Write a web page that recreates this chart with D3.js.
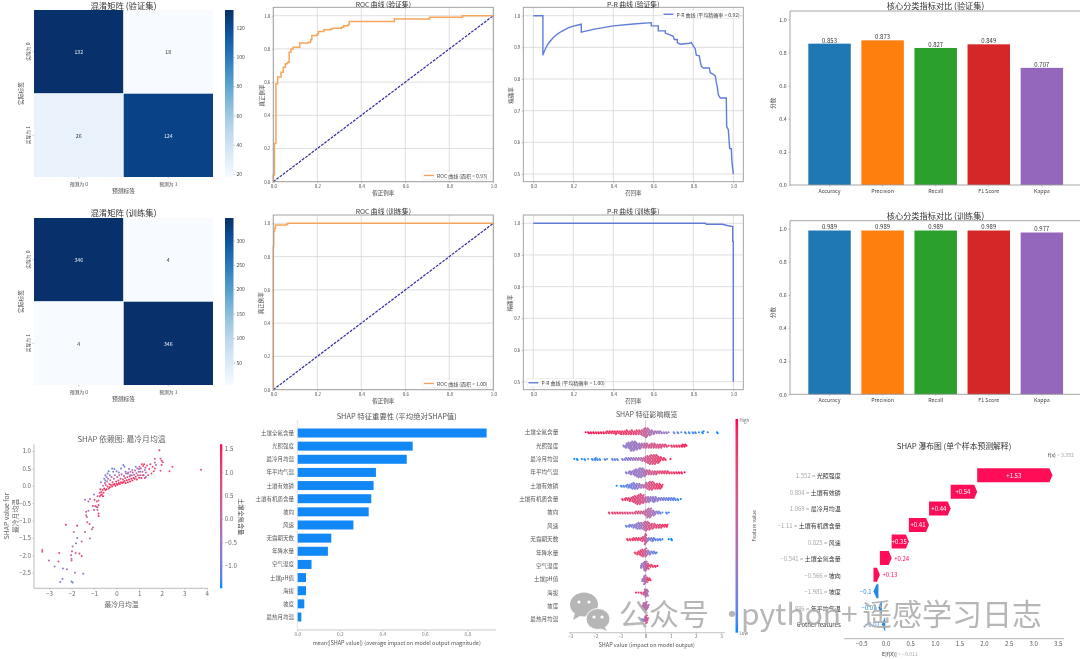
<!DOCTYPE html>
<html><head><meta charset="utf-8">
<script src="https://cdn.jsdelivr.net/npm/d3@7/dist/d3.min.js"></script>
<style>
html,body{margin:0;padding:0;background:#fff}
svg{display:block;filter:blur(.3px)}
text{font-family:"Noto Sans CJK SC","Noto Sans",sans-serif}
</style></head><body><svg id="c" width="1080" height="659" viewBox="0 0 1080 659"></svg>
<script>
// ---------- data ----------
const cmPredLabels=["预测为 0","预测为 1"];
const cmTrueLabels=["实际为 0","实际为 1"];
const cmVal=[[132,18],[26,124]];
const cmTrain=[[346,4],[4,346]];
const cmValTicks=[20,40,60,80,100,120];
const cmTrainTicks=[50,100,150,200,250,300];
const unitTicks=[0,0.2,0.4,0.6,0.8,1.0];
const prTicks=[0.5,0.6,0.7,0.8,0.9,1.0];
const rocVal=[[0,0],[0,.04],[.005,.23],[.012,.59],[.02,.63],[.035,.66],[.045,.69],[.055,.71],[.065,.72],[.072,.78],[.08,.80],[.09,.81],[.12,.835],[.16,.84],[.17,.855],[.175,.88],[.2,.89],[.205,.905],[.23,.915],[.26,.92],[.27,.925],[.31,.93],[.32,.94],[.34,.945],[.345,.965],[.53,.965],[.55,.98],[.7,.98],[.71,.99],[.85,.99],[.86,1],[1,1]];
const rocTrain=[[0,0],[0,.86],[.002,.95],[.005,.97],[.01,.99],[.06,.995],[.065,1],[1,1]];
const prVal=[[0,1],[.048,1],[.048,.875],[.05,.88],[.06,.895],[.07,.907],[.08,.916],[.1,.931],[.12,.942],[.14,.95],[.16,.957],[.18,.963],[.2,.967],[.22,.97],[.24,.973],[.24,.948],[.3,.957],[.4,.968],[.5,.974],[.59,.978],[.59,.968],[.625,.968],[.625,.952],[.66,.952],[.66,.945],[.68,.94],[.7,.935],[.705,.925],[.72,.925],[.72,.915],[.735,.91],[.78,.913],[.79,.915],[.8,.905],[.81,.895],[.815,.875],[.83,.873],[.835,.855],[.84,.84],[.85,.835],[.88,.835],[.885,.82],[.9,.815],[.91,.81],[.915,.79],[.92,.775],[.925,.75],[.935,.74],[.965,.74],[.967,.65],[.975,.64],[.982,.58],[.99,.58],[.993,.54],[1,.5]];
const prTrain=[[0,1],[.86,1],[.865,.997],[.945,.997],[.97,.993],[.997,.99],[.997,.943],[1,.943],[1,.5]];
const metricNames=["Accuracy","Precision","Recall","F1 Score","Kappa"];
const metricVal=[.853,.873,.827,.849,.707];
const metricTrain=[.989,.989,.989,.989,.977];
const metricColors=["#1f77b4","#ff7f0e","#2ca02c","#d62728","#9467bd"];
const features=["土壤全氮含量","光照强度","最冷月均温","年平均气温","土壤有效磷","土壤有机质含量","坡向","风速","无霜期天数","年降水量","空气湿度","土壤pH值","海拔","坡度","最热月均温"];
const meanShap=[.891,.543,.515,.37,.359,.348,.336,.264,.16,.144,.067,.041,.041,.033,.019];
// dependence plot: [feature, SHAP, colouring feature]
const depPoints=[[-3.3,-1.85,.2],[-3.3,-1.9,.2],[-3,-2.15,0],[-2.75,-2.32,-.6],[-2.58,-2.18,.6],[-2.55,-1.93,.8],[-2.5,-2.77,-1],[-2.4,-2.68,-.6],[-2.38,-2.38,-.5],[-2.2,-2.4,-.4],[-2.25,-1.12,1],[-2,-2.75,-.9],[-1.95,-2.78,-.9],[-2.02,-2,.3],[-2,-2.1,0],[-2,-2.15,.1],[-1.98,-1.88,.5],[-1.95,-1.75,-.1],[-1.9,-1.33,.4],[-1.85,-2.5,-.3],[-1.82,-1.93,.4],[-1.8,-1.65,-.5],[-1.75,-1.5,-.8],[-1.75,-1.15,1.2],[-1.65,-1.95,.8],[-1.55,-2.02,.9],[-1.55,-1.6,.2],[-1.48,-2.53,-.9],[-1.4,-1.33,.5],[-1.4,-.4,-.6],[-1.35,-.75,.3],[-1.35,-.85,.2],[-1.32,-.9,.1],[-1.3,-1.05,.4],[-1.25,-.45,.4],[-1.25,-.72,-.1],[-1.2,-1.1,.5],[-1.18,-.38,.3],[-1.18,-1.52,-.3],[-1.1,-1.25,.2],[-1.05,-1.2,.4],[-1.05,-.58,.9],[-1,-.25,-.7],[-1,-.7,.2],[-.98,-.4,.9],[-.95,-.58,.2],[-.9,-.6,.1],[-.88,-.45,.7],[-.85,-.3,.3],[-.85,-.62,.4],[-.85,-.7,.3],[-.8,-.42,.2],[-.8,-.55,.8],[-.8,-.8,1],[-.8,-.87,1.1],[-.75,-.3,.6],
[-.7,.1,-.6],[-.6,0,-.4],[-.55,.2,-.8],[-.5,.15,-1],[-.5,.3,-.9],[-.45,.25,-.8],[-.4,.35,-.9],[-.35,.42,-1],[-.3,.3,-.6],[-.2,.5,-.9],[-.15,.4,-.7],[-.1,.48,-1],[0,.42,-.6],[.1,.38,-.8],[.2,.5,-.9],[.3,.6,-1],[.35,.55,-.8],[.4,.4,-.7],[.5,.35,-.9],[.55,.48,-.6],[.6,.3,-.7],[.7,.45,-.5],[.85,.55,-.9],[1,.48,-1],[1.05,.4,-.8],[1.15,.3,-.9],[1.25,.45,-.7],[1.3,.25,-.8],
[-.75,-.2,1],[-.72,-.1,1.2],[-.7,-.27,1.1],[-.68,-.18,.9],[-.65,-.25,1.2],[-.62,-.12,1],[-.6,-.3,1.3],[-.58,-.2,1.1],[-.55,-.08,1.2],[-.52,.08,.4],[-.5,-.12,1.2],[-.48,.02,.5],[-.45,-.1,1.3],[-.42,.12,.2],[-.4,-.02,1.1],[-.38,.2,0],[-.35,-.08,1.2],[-.32,.05,.9],[-.3,-.04,1.3],[-.28,.16,.1],[-.25,.02,1.1],[-.22,.25,-.1],[-.2,-.02,1.2],[-.18,.1,.8],[-.15,.03,1.3],[-.12,.2,.3],[-.1,.05,1.2],[-.08,.3,-.2],[-.05,0,1.3],[-.02,.12,.9],[0,.06,1.2],[.03,.25,.2],[.05,.03,1.3],[.08,.15,.8],[.1,.08,1.3],[.12,.3,0],[.15,.05,1.2],[.18,.2,.6],[.2,.1,1.3],[.22,.33,-.1],[.25,.08,1.2],[.28,.18,.8],[.3,.1,1.3],[.33,.28,.3],[.35,.14,1.1],[.38,.22,.6],[.4,.08,1.3],[.42,.35,.1],[.45,.16,1.2],[.48,.25,.5],[.5,.1,1.3],[.52,.38,-.1],[.55,.18,1.1],[.58,.27,.4],[.6,.12,1.2],[.62,.4,-.2],[.65,.2,1.1],[.68,.3,.3],[.7,.15,1.3],[.72,.38,0],[.75,.22,1],[.78,.32,.3],[.8,.2,1.3],[.82,.44,.1],[.85,.26,.9],[.88,.36,.2],[.9,.18,1.2],[.92,.5,.3],[.95,.3,.8],[.98,.4,.1],[1,.23,1.2],[1.02,.55,.5],[1.05,.3,.8],[1.08,.5,.4],[1.1,.22,1.1],[1.12,.62,.8],[1.15,.4,.3],[1.18,.57,.6],[1.2,.3,.8],[1.22,.62,.9],[1.25,.22,1],[1.28,.52,.6],[1.3,.38,.5],[1.35,.58,.8],[1.4,.3,.9],[1.45,.48,.6],[1.5,.62,.9],[1.55,.35,1],[1.6,.55,.8],[1.65,.42,.9],
[1.9,1.02,1],[1.7,.78,.3],[1.7,.67,-.3],[1.75,.6,-.5],[1.7,.5,.9],[1.95,.78,.4],[2,.72,.8],[2.05,.68,.9],[2,.6,1],[1.95,.43,.7],[2.35,.42,.9],[2.48,.55,1],[3.75,.46,.8]];
// beeswarm bins per feature: [SHAP value, dots in the bin, feature value 0..1]
const bee0=[[-2.35,1,1],[-2.25,2,1],[-2.15,2,.97],[-2.05,2,.97],[-1.95,2,.95],[-1.85,2,.97],[-1.75,2,.95],[-1.65,2,.95],[-1.55,3,.9],[-1.45,3,.88],[-1.35,3,.9],[-1.25,3,.88],[-1.15,4,.88],[-1.05,3,.85],[-.95,4,.85],[-.85,4,.82],[-.75,5,.82],[-.65,4,.82],[-.55,5,.78],[-.45,4,.78],[-.35,5,.75],[-.25,5,.7],[-.15,6,.65],[-.05,9,.55],[.05,10,.5],[.15,7,.45],[.25,5,.38],[.35,4,.35],[.45,3,.35],[.55,3,.3],[.65,2,.3],[.75,2,.3],[.85,2,.28],[.95,1,.28],[1.15,2,.15],[1.3,2,.1],[1.45,1,.1],[1.6,2,.05],[1.75,2,.05],[1.9,2,.05],[2,2,.05],[2.15,1,.03],[2.28,3,.02],[2.5,1,.02],[2.87,2,0]];
const bee1=[[-.85,2,.2],[-.75,5,.25],[-.65,7,.3],[-.55,10,.3],[-.45,10,.3],[-.35,8,.3],[-.25,6,.35],[-.15,5,.4],[-.05,5,.45],[.05,5,.55],[.15,4,.6],[.25,5,.6],[.35,5,.65],[.45,4,.65],[.55,4,.7],[.65,4,.7],[.75,3,.75],[.85,2,.8],[.95,1,.8],[1.05,2,.85],[1.15,2,.85],[1.25,2,.9],[1.35,2,.9],[1.45,3,.95],[1.55,3,.95],[1.65,1,1]];
const bee2=[[-2.8,1,0],[-2.7,2,0],[-2.5,1,0],[-2.4,2,.02],[-2.25,1,.05],[-2.1,2,.05],[-2,3,.05],[-1.9,2,.05],[-1.8,2,.05],[-1.6,2,.1],[-1.5,1,.1],[-1.3,2,.1],[-1.2,2,.12],[-1.1,2,.15],[-.9,2,.2],[-.8,3,.2],[-.7,3,.25],[-.6,3,.25],[-.5,3,.3],[-.4,3,.35],[-.3,3,.4],[-.2,3,.4],[-.1,4,.5],[0,6,.6],[.1,8,.65],[.2,10,.7],[.3,10,.7],[.4,10,.75],[.5,8,.8],[.6,5,.85],[.7,3,.85],[.8,2,.9],[1.02,1,1]];
const bee3=[[-.75,2,.2],[-.65,3,.25],[-.55,4,.3],[-.45,6,.3],[-.35,8,.3],[-.25,10,.3],[-.15,10,.3],[-.05,8,.4],[.05,5,.55],[.15,5,.6],[.25,4,.6],[.35,4,.65],[.45,4,.7],[.55,3,.7],[.65,3,.75],[.75,3,.8],[.85,3,.8],[.95,2,.85],[1.05,2,.85],[1.15,2,.9],[1.25,2,.9],[1.35,2,.95],[1.45,2,.95],[1.58,1,1]];
const bee4=[[-1.12,1,0],[-.95,2,.05],[-.85,2,.05],[-.75,3,.1],[-.65,4,.12],[-.55,6,.15],[-.45,7,.2],[-.35,6,.25],[-.25,5,.3],[-.15,4,.35],[-.05,4,.45],[.05,7,.6],[.15,9,.65],[.25,9,.7],[.35,7,.75],[.45,6,.8],[.55,6,.85],[.65,4,.9]];
const bee5=[[-.9,2,.85],[-.8,3,.85],[-.7,3,.8],[-.6,4,.8],[-.5,6,.75],[-.4,8,.75],[-.3,10,.7],[-.2,11,.7],[-.1,9,.65],[0,6,.5],[.1,6,.35],[.2,5,.3],[.3,6,.25],[.4,5,.25],[.5,4,.25],[.6,3,.2],[.7,3,.2],[.8,3,.15],[.9,3,.12],[1,3,.1],[1.1,3,.1],[1.2,2,.08],[1.3,2,.05],[1.43,1,0]];
const bee6=[[-1.43,2,.8],[-1.3,2,.8],[-1.2,2,.8],[-1.1,2,.8],[-1,2,.8],[-.9,2,.75],[-.8,2,.75],[-.7,2,.75],[-.6,2,.7],[-.5,2,.7],[-.4,3,.7],[-.3,3,.7],[-.2,3,.65],[-.1,3,.6],[0,6,.5],[.1,10,.45],[.2,10,.45],[.3,6,.35],[.4,4,.3],[.5,3,.2],[.6,2,.15],[.7,1,.1],[.85,2,.05],[.95,1,.05]];
const bee7=[[-.75,2,.1],[-.65,3,.15],[-.55,3,.2],[-.45,4,.2],[-.35,6,.25],[-.25,7,.3],[-.15,7,.35],[-.05,9,.45],[.05,10,.6],[.15,8,.65],[.25,6,.7],[.35,5,.7],[.45,4,.75],[.55,4,.8],[.65,4,.85],[.75,3,.9],[.85,3,.95]];
const bee8=[[-.7,2,.85],[-.6,2,.85],[-.5,3,.85],[-.4,3,.8],[-.3,3,.8],[-.2,3,.75],[-.1,5,.7],[0,11,.6],[.1,4,.3],[.2,3,.2],[.3,4,.15],[.4,2,.1],[.5,2,.1],[.6,2,.1],[.7,1,.05],[.95,1,0],[1.05,2,0]];
const bee9=[[-.4,2,.8],[-.3,4,.8],[-.2,6,.8],[-.1,8,.7],[0,9,.55],[.1,5,.3],[.2,4,.25],[.3,3,.15],[.4,2,.1],[.47,1,.05]];
const bee10=[[-.15,5,.3],[-.05,9,.35],[.02,10,.45],[.1,6,.7],[.2,3,.8],[.3,2,.85],[.4,2,.9],[.5,1,1]];
const bee11=[[-.1,4,.3],[-.03,10,.4],[.05,6,.6],[.12,3,.85],[.2,2,.9]];
const bee12=[[-.35,1,.9],[-.25,1,.9],[-.15,2,.8],[-.05,4,.6],[0,8,.5],[.07,7,.4]];
const bee13=[[-.12,3,.6],[-.05,7,.5],[.02,9,.45],[.1,4,.4]];
const bee14=[[-.15,2,.05],[-.08,2,.1],[-.02,5,.4],[.03,9,.6],[.08,3,.7]];
const beeRows=[bee0,bee1,bee2,bee3,bee4,bee5,bee6,bee7,bee8,bee9,bee10,bee11,bee12,bee13,bee14];
const wfNames=["光照强度","土壤有效磷","最冷月均温","土壤有机质含量","风速","土壤全氮含量","坡向","坡度","年平均气温","6 other features"];
const wfFeatureValues=["1.552","0.804","1.069","−1.11","0.825","−0.541","−0.566","−1.981","1.886",""];
const wfEffects=[1.53,.54,.44,.41,.35,.24,.13,-.1,-.07,-.067];
const wfEffectLabels=["+1.53","+0.54","+0.44","+0.41","+0.35","+0.24","+0.13","−0.1","−0.07","−0.07"];
const wfBase=-0.011, wfFx=3.392;

// ---------- helpers ----------
const svg=d3.select("#c");
const defs=svg.append("defs");
const INK="#444", GRID="#d6d6d6", SPINE="#9a9a9a";
const RED="#ff0d57", BLUE="#1e88e5";
const shapColor=t=>d3.interpolateLab("#008bfb","#ff0051")(t);
function txt(g,x,y,s,size,opt={}){
  const t=g.append("text").attr("x",x).attr("y",y).text(s)
    .attr("font-size",size).attr("fill",opt.fill||INK)
    .attr("text-anchor",opt.anchor||"middle").attr("dominant-baseline","central");
  if(opt.rotate!=null) t.attr("transform",`rotate(${opt.rotate} ${x} ${y})`);
  if(opt.weight) t.attr("font-weight",opt.weight);
  return t;
}
function styleAxis(a,size,color,lineCol){
  a.selectAll("text").attr("font-size",size).attr("fill",color||INK).attr("font-family",'"Noto Sans CJK SC",sans-serif');
  a.selectAll("line").attr("stroke",lineCol||"#888").attr("stroke-width",.5);
  a.selectAll("path").attr("stroke",lineCol||"#888");
}
function vGradient(id,fn){
  const g=defs.append("linearGradient").attr("id",id).attr("x1",0).attr("y1",1).attr("x2",0).attr("y2",0);
  d3.range(0,1.001,.05).forEach(t=>g.append("stop").attr("offset",t).attr("stop-color",fn(t)));
}

// ---------- heatmaps ----------
function heatmap(id,m,ticks,box,titleText,labY){
  const g=svg.append("g");
  const all=m.flat(), lo=d3.min(all), hi=d3.max(all);
  const c=d3.scaleSequential(d3.interpolateBlues).domain([lo,hi]);
  const x=d3.scaleBand().domain([0,1]).range([box.x0,box.x1]);
  const y=d3.scaleBand().domain([0,1]).range([box.y0,box.y1]);
  m.forEach((row,r)=>row.forEach((v,k)=>{
    g.append("rect").attr("x",x(k)).attr("y",y(r)).attr("width",x.bandwidth()).attr("height",y.bandwidth()).attr("fill",c(v));
    txt(g,x(k)+x.bandwidth()/2,y(r)+y.bandwidth()/2,v,5.2,{fill:v>(lo+hi)/2?"#e8f1fa":"#26374d"});
  }));
  g.append("line").attr("x1",x(1)).attr("x2",x(1)).attr("y1",box.y0).attr("y2",box.y1).attr("stroke","#dfe9f3").attr("stroke-width",.5);
  g.append("line").attr("x1",box.x0).attr("x2",box.x1).attr("y1",y(1)).attr("y2",y(1)).attr("stroke","#dfe9f3").attr("stroke-width",.5);
  txt(g,(box.x0+box.x1)/2,box.title,titleText,8.4,{fill:"#333"});
  cmPredLabels.forEach((s,k)=>{
    txt(g,x(k)+x.bandwidth()/2,box.y1+6,s,4.8);
    g.append("line").attr("x1",x(k)+x.bandwidth()/2).attr("x2",x(k)+x.bandwidth()/2).attr("y1",box.y1).attr("y2",box.y1+1.5).attr("stroke","#888").attr("stroke-width",.5);
  });
  cmTrueLabels.forEach((s,k)=>{
    txt(g,27.7,y(k)+y.bandwidth()/2,s,4.8,{rotate:-90});
    g.append("line").attr("x1",box.x0-1.5).attr("x2",box.x0).attr("y1",y(k)+y.bandwidth()/2).attr("y2",y(k)+y.bandwidth()/2).attr("stroke","#888").attr("stroke-width",.5);
  });
  txt(g,123.5,box.y1+13.5,"预测标签",5.8);
  txt(g,20,(box.y0+box.y1)/2,"实际标签",5.8,{rotate:-90});
  vGradient(id,t=>d3.interpolateBlues(t));
  g.append("rect").attr("x",225).attr("y",box.y0).attr("width",8.5).attr("height",box.y1-box.y0).attr("fill",`url(#${id})`);
  const cb=d3.scaleLinear().domain([lo,hi]).range([box.y1,box.y0]);
  const a=g.append("g").attr("transform","translate(233.5,0)").call(d3.axisRight(cb).tickValues(ticks).tickSize(1.5).tickPadding(1.5));
  a.select(".domain").remove(); styleAxis(a,5);
}
heatmap("gBluesA",cmVal,cmValTicks,{x0:34,x1:213,y0:10,y1:177,title:4.9},"混淆矩阵 (验证集)");
heatmap("gBluesB",cmTrain,cmTrainTicks,{x0:34,x1:213,y0:218,y1:385,title:212},"混淆矩阵 (训练集)");

// ---------- frames for curves ----------
function frame(g,f,x,y,xt,yt){
  g.append("rect").attr("x",f.x0).attr("y",f.y0).attr("width",f.x1-f.x0).attr("height",f.y1-f.y0).attr("fill","#fff");
  xt.forEach(v=>g.append("line").attr("x1",x(v)).attr("x2",x(v)).attr("y1",f.y0).attr("y2",f.y1).attr("stroke",GRID).attr("stroke-width",.8));
  yt.forEach(v=>g.append("line").attr("y1",y(v)).attr("y2",y(v)).attr("x1",f.x0).attr("x2",f.x1).attr("stroke",GRID).attr("stroke-width",.8));
  const ax=g.append("g").attr("transform",`translate(0,${f.y1})`).call(d3.axisBottom(x).tickValues(xt).tickFormat(d3.format(".1f")).tickSize(1.5).tickPadding(1.5));
  ax.select(".domain").remove(); styleAxis(ax,4.4);
  const ay=g.append("g").attr("transform",`translate(${f.x0},0)`).call(d3.axisLeft(y).tickValues(yt).tickFormat(d3.format(".1f")).tickSize(1.5).tickPadding(1.5));
  ay.select(".domain").remove(); styleAxis(ay,4.4);
}
function border(g,f){
  g.append("rect").attr("x",f.x0).attr("y",f.y0).attr("width",f.x1-f.x0).attr("height",f.y1-f.y0).attr("fill","none").attr("stroke",SPINE).attr("stroke-width",.9);
}
function legend(g,l,color,s){
  g.append("rect").attr("x",l.x).attr("y",l.y).attr("width",l.w).attr("height",l.h).attr("rx",1).attr("fill","#fff").attr("fill-opacity",.85).attr("stroke","#e2e2e2").attr("stroke-width",.5);
  g.append("line").attr("x1",l.x+1.5).attr("x2",l.x+11.5).attr("y1",l.y+l.h/2).attr("y2",l.y+l.h/2).attr("stroke",color).attr("stroke-width",1.4);
  txt(g,l.x+14.5,l.y+l.h/2,s,5,{anchor:"start"});
}
function roc(data,f,titleText,auc,labelY){
  const g=svg.append("g");
  const x=d3.scaleLinear().domain([0,1]).range([f.x0,f.x1]);
  const y=d3.scaleLinear().domain([0,1]).range([f.y1,f.one]);
  frame(g,f,x,y,unitTicks,unitTicks);
  g.append("path").datum([[0,0],[1,1]]).attr("d",d3.line().x(d=>x(d[0])).y(d=>y(d[1]))).attr("stroke","#2b2b9a").attr("stroke-width",1.2).attr("stroke-dasharray","2.8 1.2").attr("fill","none");
  g.append("path").datum(data).attr("d",d3.line().x(d=>x(d[0])).y(d=>y(d[1])).curve(d3.curveStepAfter)).attr("stroke","#f5a65c").attr("stroke-width",1.5).attr("fill","none");
  border(g,f);
  txt(g,(f.x0+f.x1)/2,f.title,titleText,6.8,{fill:"#333"});
  txt(g,(f.x0+f.x1)/2,labelY,"假正例率",5.5);
  txt(g,261.5,(f.y0+f.y1)/2+1,"真正例率",5.5,{rotate:-90});
  legend(g,{x:422.5,y:f.y1-10.5,w:68,h:8.5},"#f5a65c",`ROC 曲线 (面积 = ${auc})`);
}
roc(rocVal,{x0:273.3,x1:493.3,y0:7.3,y1:181.7,one:15.7,title:3.8},"ROC 曲线 (验证集)","0.93",193);
roc(rocTrain,{x0:273.3,x1:493.3,y0:215,y1:389.7,one:223.3,title:210.5},"ROC 曲线 (训练集)","1.00",401);
function pr(data,f,titleText,ap,leg,labelY){
  const g=svg.append("g");
  const x=d3.scaleLinear().domain([0,1]).range([f.zero,f.full]);
  const y=d3.scaleLinear().domain([.5,1]).range([f.half,f.one]);
  frame(g,f,x,y,unitTicks,prTicks);
  g.append("path").datum(data).attr("d",d3.line().x(d=>x(d[0])).y(d=>y(d[1]))).attr("stroke","#5f7dd6").attr("stroke-width",1.4).attr("fill","none");
  border(g,f);
  txt(g,(f.x0+f.x1)/2,f.title,titleText,6.8,{fill:"#333"});
  txt(g,(f.x0+f.x1)/2,labelY,"召回率",5.5);
  txt(g,510.5,(f.y0+f.y1)/2+1,"精确率",5.5,{rotate:-90});
  legend(g,leg,"#5f7dd6",`P-R 曲线 (平均精确率 = ${ap})`);
}
pr(prVal,{x0:523.3,x1:743.3,y0:7.3,y1:181.7,zero:533.3,full:733.3,one:15.7,half:174,title:3.8},"P-R 曲线 (验证集)","0.92",{x:662,y:10,w:78,h:8.5},193);
pr(prTrain,{x0:523.3,x1:743.3,y0:215,y1:389.7,zero:533.3,full:733.3,one:223.3,half:381.7,title:210.5},"P-R 曲线 (训练集)","1.00",{x:527,y:378.5,w:78,h:8.5},401);

// ---------- metric bars ----------
function metricBars(vals,f,titleText){
  const g=svg.append("g");
  const x=d3.scaleBand().domain(metricNames).range([797.7,1073.7]).padding(.2);
  const y=d3.scaleLinear().domain([0,1]).range([f.zero,f.one]);
  metricNames.forEach((n,i)=>{
    g.append("rect").attr("x",x(n)).attr("y",y(vals[i])).attr("width",x.bandwidth()).attr("height",y(0)-y(vals[i])).attr("fill",metricColors[i]);
    txt(g,x(n)+x.bandwidth()/2,y(vals[i])-3.6,d3.format(".3f")(vals[i]),6,{fill:"#333"});
  });
  g.append("path").attr("d",`M1080 ${f.top}H790V${f.zero}H1080`).attr("fill","none").attr("stroke",SPINE).attr("stroke-width",.9);
  const ax=g.append("g").attr("transform",`translate(0,${f.zero})`).call(d3.axisBottom(x).tickSize(1.5).tickPadding(2.5));
  ax.select(".domain").remove(); styleAxis(ax,5.3);
  const ay=g.append("g").attr("transform","translate(790,0)").call(d3.axisLeft(y).tickValues(unitTicks).tickFormat(d3.format(".1f")).tickSize(1.5).tickPadding(1.8));
  ay.select(".domain").remove(); styleAxis(ay,5.3);
  txt(g,935.5,f.title,titleText,8.2,{fill:"#333"});
  txt(g,773,(f.zero+f.one)/2+1,"分数",5.5,{rotate:-90});
}
metricBars(metricVal,{zero:185,one:19.3,top:11,title:5},"核心分类指标对比 (验证集)");
metricBars(metricTrain,{zero:394.3,one:228.7,top:220.7,title:214.7},"核心分类指标对比 (训练集)");

// ---------- dependence plot ----------
(function(){
  const g=svg.append("g"), GR="#666";
  const x=d3.scaleLinear().domain([-3,4]).range([49,206.7]);
  const y=d3.scaleLinear().domain([-2.5,1]).range([572.7,451]);
  const cb=d3.scaleLinear().domain([-1,1.5]).range([565.7,448.7]);
  const col=v=>shapColor((v+1.35)/2.85);
  g.selectAll("circle").data(depPoints).join("circle").attr("cx",d=>x(d[0])).attr("cy",d=>y(d[1])).attr("r",1).attr("fill",d=>col(d[2]));
  const ax=g.append("g").attr("transform","translate(0,588.3)").call(d3.axisBottom(x).tickValues(d3.range(-3,5)).tickFormat(d3.format("d")).tickSize(1.5).tickPadding(1.5));
  ax.select(".domain").remove(); styleAxis(ax,6.2,GR,"#999");
  g.append("line").attr("x1",34).attr("x2",208).attr("y1",588.3).attr("y2",588.3).attr("stroke","#aaa").attr("stroke-width",.8);
  const ay=g.append("g").attr("transform","translate(34,0)").call(d3.axisLeft(y).tickValues(d3.range(-2.5,1.01,.5)).tickFormat(d3.format(".1f")).tickSize(1.5).tickPadding(1.5));
  ay.select(".domain").remove(); styleAxis(ay,6.2,GR,"#999");
  g.append("line").attr("x1",34).attr("x2",34).attr("y1",444.3).attr("y2",588.3).attr("stroke","#aaa").attr("stroke-width",.8);
  txt(g,121.5,438.7,"SHAP 依赖图: 最冷月均温",7.8,{fill:GR});
  txt(g,121.5,603.7,"最冷月均温",6.8,{fill:GR});
  txt(g,6,516,"SHAP value for",6.8,{rotate:-90,fill:GR});
  txt(g,14.5,516,"最冷月均温",6.8,{rotate:-90,fill:GR});
  vGradient("gRB1",shapColor);
  g.append("rect").attr("x",220).attr("y",444.3).attr("width",2.3).attr("height",144).attr("fill","url(#gRB1)");
  const ac=g.append("g").attr("transform","translate(222.3,0)").call(d3.axisRight(cb).tickValues([-1,-.5,0,.5,1,1.5]).tickFormat(d3.format(".1f")).tickSize(1).tickPadding(1.5));
  ac.select(".domain").remove(); styleAxis(ac,6.2,GR,"#999");
  txt(g,241,516.7,"土壤全氮含量",6.2,{rotate:90,fill:"#444"});
})();

// ---------- mean SHAP bars ----------
(function(){
  const g=svg.append("g");
  const x=d3.scaleLinear().domain([0,.8]).range([297.3,467.3]);
  const y=d3.scalePoint().domain(features).range([433,617]);
  features.forEach((f,i)=>{
    g.append("rect").attr("x",x(0)).attr("y",y(f)-4.5).attr("width",x(meanShap[i])-x(0)).attr("height",9).attr("fill","#1188f5");
    txt(g,294,y(f),f,5.5,{anchor:"end",fill:"#555"});
  });
  g.append("line").attr("x1",x(0)).attr("x2",x(0)).attr("y1",420).attr("y2",630).attr("stroke","#ddd").attr("stroke-width",.8);
  g.append("line").attr("x1",x(0)).attr("x2",496).attr("y1",630).attr("y2",630).attr("stroke","#bbb").attr("stroke-width",.8);
  const ax=g.append("g").attr("transform","translate(0,630)").call(d3.axisBottom(x).tickValues([0,.2,.4,.6,.8]).tickFormat(d3.format(".1f")).tickSize(1.5).tickPadding(1));
  ax.select(".domain").remove(); styleAxis(ax,4.8,"#777","#aaa");
  txt(g,396.7,415,"SHAP 特征重要性 (平均绝对SHAP值)",7.4,{fill:"#555"});
  txt(g,396.7,642.7,"mean(|SHAP value|) (average impact on model output magnitude)",5.5,{fill:"#555"});
})();

// ---------- beeswarm ----------
(function(){
  const g=svg.append("g");
  const x=d3.scaleLinear().domain([-3,3]).range([570,721]);
  const y=d3.scalePoint().domain(features).range([432.3,619.3]);
  g.append("line").attr("x1",x(0)).attr("x2",x(0)).attr("y1",420).attr("y2",632.7).attr("stroke","#bbb").attr("stroke-width",.6);
  features.forEach((f,i)=>{
    const dots=[];
    beeRows[i].forEach(b=>{
      d3.range(b[1]).forEach(k=>{
        const off=(k%2?1:-1)*Math.ceil(k/2)*1;
        dots.push({x:x(b[0])+((k%3)-1)*.7, y:y(f)+off, c:shapColor(b[2])});
      });
    });
    g.append("g").selectAll("circle").data(dots).join("circle").attr("cx",d=>d.x).attr("cy",d=>d.y).attr("r",1.05).attr("fill",d=>d.c);
    txt(g,558.3,y(f),f,5.6,{anchor:"end",fill:"#555"});
  });
  g.append("line").attr("x1",569).attr("x2",725).attr("y1",632.7).attr("y2",632.7).attr("stroke","#aaa").attr("stroke-width",.7);
  const ax=g.append("g").attr("transform","translate(0,632.7)").call(d3.axisBottom(x).tickValues(d3.range(-3,4)).tickFormat(d3.format("d")).tickSize(1.5).tickPadding(.8));
  ax.select(".domain").remove(); styleAxis(ax,4.6,"#666","#aaa");
  txt(g,646.7,414,"SHAP 特征影响概览",7,{fill:"#555"});
  txt(g,646.7,645,"SHAP value (impact on model output)",5.5,{fill:"#555"});
  vGradient("gRB2",shapColor);
  g.append("rect").attr("x",735.5).attr("y",419).attr("width",2.6).attr("height",213.7).attr("fill","url(#gRB2)");
  txt(g,739.5,419.5,"High",4.4,{anchor:"start",fill:"#666"});
  txt(g,739.5,632.5,"Low",4.4,{anchor:"start",fill:"#666"});
  txt(g,753.3,525.7,"Feature value",5,{rotate:-90,fill:"#555"});
})();

// ---------- waterfall ----------
(function(){
  const g=svg.append("g");
  const x=d3.scaleLinear().domain([0,3.5]).range([885.7,1057.7]);
  const y=d3.scalePoint().domain(wfNames).range([475.3,624.3]);
  // cumulative ends, walking down from f(x)
  let hiEnd=wfFx;
  const rows=wfNames.map((n,i)=>{
    const end=hiEnd, start=end-wfEffects[i]; hiEnd=start;
    return {n,i,from:start,to:end,eff:wfEffects[i]};
  });
  rows.forEach(r=>{
    const yc=y(r.n), h=7, pos=r.eff>=0, col=pos?RED:BLUE;
    const a=x(r.from), b=x(r.to), head=3;
    const tip=b, body=pos?Math.max(a,b-head):Math.min(a,b+head);
    g.append("path").attr("d",`M${a} ${yc-h}L${body} ${yc-h}L${tip} ${yc}L${body} ${yc+h}L${a} ${yc+h}Z`).attr("fill",col);
    const wide=Math.abs(b-a)>15;
    if(wide) txt(g,(a+b)/2-(pos?1:0),yc,wfEffectLabels[r.i],6,{fill:"#fff"});
    else if(pos) txt(g,b+2.5,yc,wfEffectLabels[r.i],6,{anchor:"start",fill:RED});
    else txt(g,b-2,yc,wfEffectLabels[r.i],6,{anchor:"end",fill:BLUE});
    const t=txt(g,840.7,yc,"",6,{anchor:"end"});
    if(wfFeatureValues[r.i]) t.append("tspan").attr("fill","#a8a8a8").text(wfFeatureValues[r.i]+" = ");
    t.append("tspan").attr("fill","#333").text(r.n);
  });
  const ax=g.append("g").attr("transform","translate(0,638.7)").call(d3.axisBottom(x).tickValues(d3.range(-.5,3.51,.5)).tickFormat(d3.format(".1f")).tickSize(0).tickPadding(3));
  ax.select(".domain").remove(); styleAxis(ax,6,"#555","#999");
  g.append("line").attr("x1",844).attr("x2",1064).attr("y1",638.7).attr("y2",638.7).attr("stroke","#aaa").attr("stroke-width",.9);
  const tb=txt(g,900,652.7,"",5.2,{});
  tb.append("tspan").attr("fill","#333").text("E[f(X)]");
  tb.append("tspan").attr("fill","#aaa").text(" = −0.011");
  const tf=txt(g,1048,454,"",5.2,{anchor:"start"});
  tf.append("tspan").attr("fill","#333").text("f(x)");
  tf.append("tspan").attr("fill","#aaa").text(" = 3.392");
  txt(g,954,445.5,"SHAP 瀑布图 (单个样本预测解释)",7.8,{fill:"#333"});
})();

// ---------- watermark ----------
(function(){
  const g=svg.append("g").attr("opacity",.9);
  const C="#aeaeae";
  g.append("ellipse").attr("cx",584).attr("cy",604.5).attr("rx",14).attr("ry",12).attr("fill",C);
  g.append("path").attr("d","M575 613l-2 7l7-4z").attr("fill",C);
  g.append("ellipse").attr("cx",598).attr("cy",619).attr("rx",12).attr("ry",10.5).attr("fill",C).attr("stroke","#fff").attr("stroke-width",1);
  g.append("path").attr("d","M604 626l3 5l-7-3z").attr("fill",C);
  [[579,602],[589,602],[594,617],[602,617]].forEach(p=>g.append("circle").attr("cx",p[0]).attr("cy",p[1]).attr("r",1.6).attr("fill","#fff"));
  const t=g.append("text").attr("y",612).attr("dominant-baseline","central").attr("font-size",30).attr("fill",C);
  t.append("tspan").attr("x",619).text("公众号");
  t.append("tspan").attr("x",717).text("·");
  t.append("tspan").attr("x",741).text("python+");
  t.append("tspan").attr("x",862).text("遥感学习日志");
})();
</script></body></html>
